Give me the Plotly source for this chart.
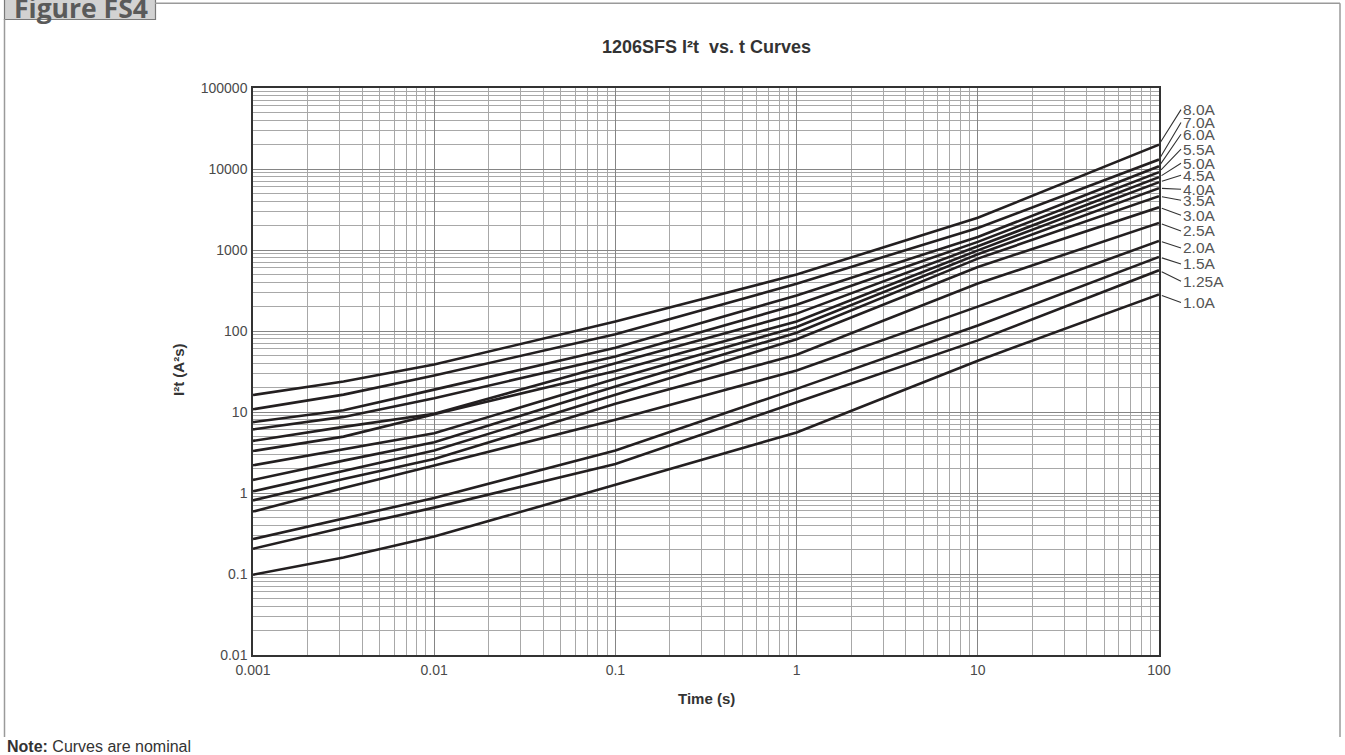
import math
import plotly.graph_objects as go

# ---------------- data ----------------
ratings = ["8.0A", "7.0A", "6.0A", "5.5A", "5.0A", "4.5A", "4.0A",
           "3.5A", "3.0A", "2.5A", "2.0A", "1.5A", "1.25A", "1.0A"]
time_s = [0.001, 0.00316, 0.01, 0.1, 1, 10, 100]

i2t_8_0 = [16.2, 23.8, 38.6, 131, 497, 2500, 20000]
i2t_7_0 = [10.8, 16.4, 28.2, 91, 384, 1870, 13100]
i2t_6_0 = [7.5, 10.5, 18.9, 62, 275, 1450, 10800]
i2t_5_5 = [6.1, 8.7, 14.8, 48.5, 211, 1260, 9150]
i2t_5_0 = [4.4, 6.55, 9.5, 40, 164, 1110, 7920]
i2t_4_5 = [3.3, 4.97, 9.4, 32, 131, 990, 6870]
i2t_4_0 = [2.2, 3.43, 5.46, 25.7, 112, 885, 5790]
i2t_3_5 = [1.45, 2.51, 4.23, 20.6, 95, 783, 4610]
i2t_3_0 = [1.05, 1.89, 3.34, 16.3, 79, 617, 3370]
i2t_2_5 = [0.81, 1.49, 2.63, 12.6, 51, 385, 2160]
i2t_2_0 = [0.59, 1.15, 2.18, 8.0, 32.5, 200, 1294]
i2t_1_5 = [0.27, 0.48, 0.87, 3.34, 19.3, 117, 820]
i2t_1_25 = [0.205, 0.376, 0.66, 2.28, 13.2, 76.6, 561]
i2t_1_0 = [0.098, 0.16, 0.29, 1.26, 5.6, 43, 283]

series = [i2t_8_0, i2t_7_0, i2t_6_0, i2t_5_5, i2t_5_0, i2t_4_5, i2t_4_0,
          i2t_3_5, i2t_3_0, i2t_2_5, i2t_2_0, i2t_1_5, i2t_1_25, i2t_1_0]

x_tickvals = [0.001, 0.01, 0.1, 1, 10, 100]
x_ticktext = ["0.001", "0.01", "0.1", "1", "10", "100"]
y_tickvals = [0.01, 0.1, 1, 10, 100, 1000, 10000, 100000]
y_ticktext = ["0.01", "0.1", "1", "10", "100", "1000", "10000", "100000"]

# ---------------- layout constants ----------------
W, H = 1345, 755
L, R, T, B = 253, 1159, 88, 655  # plot area in pixels
label_dy = [-35, -37, -32, -23, -14, -7, 1, 4, 8, 8, 7, 7, 11, 8]  # leader offsets (px)

def px(xp):
    return (xp - L) / (R - L)

def py(yp):
    return (B - yp) / (B - T)

CURVE = "#231f20"
GRID_MAJ = "#858585"
GRID_MIN = "#a8a8a8"
TXT = "#4a4a4a"
FONT = "Liberation Sans, Arial, sans-serif"

fig = go.Figure()
for name, vals in zip(ratings, series):
    fig.add_trace(go.Scatter(x=time_s, y=vals, mode="lines", name=name,
                             line=dict(color=CURVE, width=2.6),
                             showlegend=False, hoverinfo="skip"))

annotations = []
for name, vals, dy in zip(ratings, series, label_dy):
    annotations.append(dict(
        x=math.log10(time_s[-1]), y=math.log10(vals[-1]), xref="x", yref="y",
        text=name, showarrow=True, arrowhead=0, arrowwidth=1.1,
        arrowcolor="#333333", ax=22, ay=dy, standoff=3,
        xanchor="left", yanchor="middle",
        font=dict(family=FONT, size=15.5, color="#555555")))

annotations += [
    dict(text="<b>1206SFS I²t  vs. t Curves</b>", x=0.5, y=py(47), xref="paper",
         yref="paper", xanchor="center", yanchor="middle", showarrow=False,
         font=dict(family=FONT, size=18, color="#333333")),
    dict(text="<b>Time (s)</b>", x=0.5, y=py(698), xref="paper", yref="paper",
         xanchor="center", yanchor="middle",
         showarrow=False, font=dict(family=FONT, size=15, color="#333333")),
    dict(text="<b>I²t (A²s)</b>", x=px(178), y=py(370), xref="paper", yref="paper",
         xanchor="center", yanchor="middle",
         showarrow=False, textangle=-90, font=dict(family=FONT, size=15, color="#333333")),
    dict(text="<b>Note:</b> Curves are nominal", x=px(5), y=py(746), xref="paper",
         yref="paper", xanchor="left", yanchor="middle", showarrow=False,
         font=dict(family=FONT, size=16, color="#333333")),
    dict(text="<b>Figure FS4</b>", x=px(12), y=py(8), xref="paper", yref="paper",
         xanchor="left", yanchor="middle", showarrow=False,
         font=dict(family="Open Sans, sans-serif", size=26.5, color="#5a5a5a")),
]

shapes = [
    # outer frame
    dict(type="line", xref="paper", yref="paper", x0=px(155), x1=px(1340), y0=py(3.3), y1=py(3.3),
         line=dict(color="#9a9a9a", width=1.5)),
    dict(type="line", xref="paper", yref="paper", x0=px(4.5), x1=px(4.5), y0=py(19), y1=py(737),
         line=dict(color="#9a9a9a", width=1.5)),
    dict(type="line", xref="paper", yref="paper", x0=px(1340), x1=px(1340), y0=py(3.3), y1=py(737),
         line=dict(color="#9a9a9a", width=1.5)),
    # figure tab
    dict(type="rect", xref="paper", yref="paper", x0=px(4.5), x1=px(155.5), y0=py(-2), y1=py(19.5),
         fillcolor="#d2d2d2", line=dict(color="#7a7a7a", width=1.2), layer="below"),
]

axis_common = dict(type="log", showgrid=True, gridcolor=GRID_MAJ, gridwidth=1,
                   showline=True, linecolor="#333333", linewidth=1.5, mirror=True,
                   ticks="", zeroline=False,
                   tickfont=dict(family=FONT, size=14, color=TXT),
                   minor=dict(dtick="D1", showgrid=True, gridcolor=GRID_MIN, gridwidth=1, ticks=""))

fig.update_layout(
    width=W, height=H, autosize=False,
    margin=dict(l=L, r=W - R, t=T, b=H - B, pad=0),
    paper_bgcolor="white", plot_bgcolor="white",
    xaxis=dict(range=[-3, 2], tickmode="array", tickvals=x_tickvals, ticktext=x_ticktext,
               ticklabelstandoff=1, **axis_common),
    yaxis=dict(range=[-2, 5], tickmode="array", tickvals=y_tickvals, ticktext=y_ticktext,
               ticklabelstandoff=1, **axis_common),
    annotations=annotations, shapes=shapes,
)

fig.write_html("out.html", config={"displayModeBar": False},
               post_script="document.body.style.margin='0';document.body.style.overflow='hidden';")
